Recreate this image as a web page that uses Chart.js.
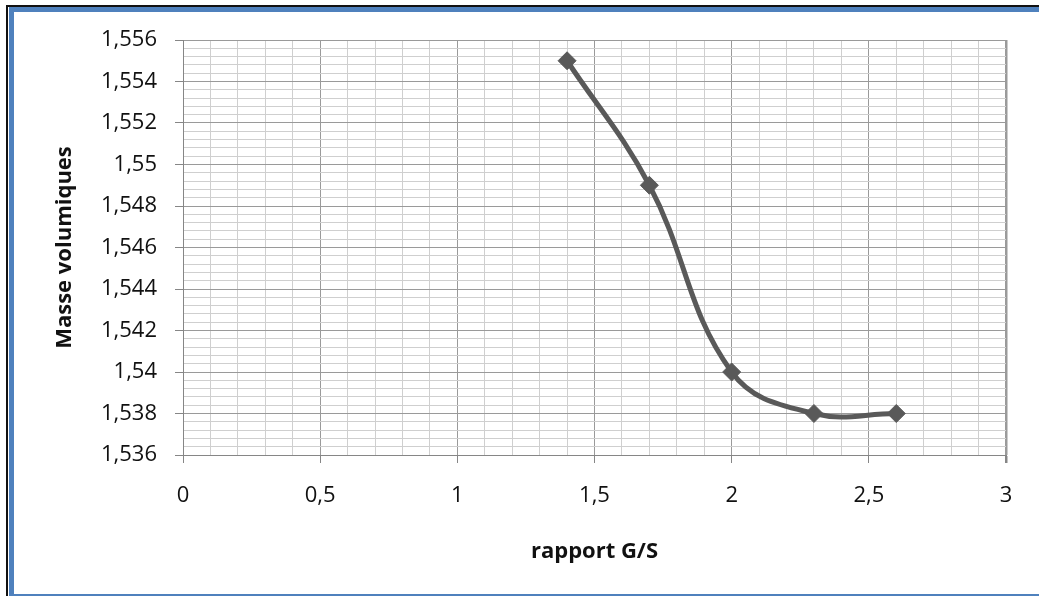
<!DOCTYPE html>
<html>
<head>
<meta charset="utf-8">
<title>Masse volumiques</title>
<script src="https://cdn.jsdelivr.net/npm/chart.js@4"></script>
<style>
  html, body { margin: 0; padding: 0; background: #fff; overflow: hidden; }
  #wrap { position: relative; width: 1039px; height: 596px; }
  #edge { position: absolute; left: 6px; top: 5px; right: -10px; bottom: -10px;
          border-left: 2px solid #111; border-top: 2px solid #111; }
  #frame { position: absolute; left: 9px; top: 7px; right: -10px; bottom: 0;
           border-left: 5px solid #4f81bd; border-top: 5px solid #4f81bd;
           border-bottom: 2px solid #4f81bd; }
  canvas { position: absolute; left: 0; top: 0; }
</style>
</head>
<body>
<div id="wrap">
  <div id="edge"></div>
  <div id="frame"></div>
  <canvas id="myChart" width="1039" height="596"></canvas>
</div>
<script>
// rapport G/S vs masse volumique
const ratioGS = [1.4, 1.7, 2.0, 2.3, 2.6]
const masseVol = [1.555, 1.549, 1.540, 1.538, 1.538]

const xMin = 0, xMax = 3, xStep = 0.1, xMajor = 0.5
const yMin = 1.536, yMax = 1.556, yStep = 0.0004, yMajor = 0.002

const FONT = "'Open Sans', Lato, 'Liberation Sans', sans-serif"

// Excel style number: comma decimal, no trailing zeros
const fmt = v => String(Math.round(v * 1000) / 1000).replace('.', ',')
const isMajor = (v, step) => Math.abs(Math.round(v / step) * step - v) < step * 1e-4

const points = ratioGS.map((x, i) => ({ x: x, y: masseVol[i] }))

const config = {
    type: 'scatter',
    data: {
        datasets: [{
            data: points,
            showLine: true,
            borderColor: '#595959',
            backgroundColor: '#595959',
            borderWidth: 5,
            tension: 0.4,
            pointStyle: 'rectRot',
            pointRadius: 9,
            pointBorderWidth: 1,
            pointHoverRadius: 9
        }]
    },
    options: {
        responsive: false,
        animation: false,
        events: [],
        layout: { padding: { left: 0, top: 40, right: 33, bottom: 0 } },
        plugins: {
            legend: { display: false },
            tooltip: { enabled: false }
        },
        scales: {
            x: {
                type: 'linear',
                min: xMin,
                max: xMax,
                afterFit: s => { s.height = 141 },
                ticks: {
                    stepSize: xStep,
                    autoSkip: false,
                    maxRotation: 0,
                    padding: 20,
                    color: '#111',
                    font: { family: FONT, size: 22 },
                    callback: v => isMajor(v, xMajor) ? fmt(v) : ''
                },
                grid: {
                    tickLength: 8,
                    color: c => isMajor(c.tick.value, xMajor) ? '#9a9a9a' : '#cfcfcf',
                    lineWidth: c => Math.abs(c.tick.value - xMax) < 1e-6 ? 2.5 : 1,
                    tickColor: c => isMajor(c.tick.value, xMajor) ? '#868686' : 'rgba(0,0,0,0)'
                },
                border: { color: '#868686', width: 1 },
                title: {
                    display: true,
                    text: 'rapport G/S',
                    color: '#111',
                    font: { family: FONT, size: 22, weight: 'bold' },
                    padding: { top: 0, bottom: 31 }
                }
            },
            y: {
                min: yMin,
                max: yMax,
                afterFit: s => { s.width = 183 },
                ticks: {
                    stepSize: yStep,
                    autoSkip: false,
                    padding: 18,
                    color: '#111',
                    font: { family: FONT, size: 22 },
                    callback: v => isMajor(v - yMin, yMajor) ? fmt(v) : ''
                },
                grid: {
                    tickLength: 8,
                    color: c => isMajor(c.tick.value - yMin, yMajor) ? '#9a9a9a' : '#cfcfcf',
                    tickColor: c => isMajor(c.tick.value - yMin, yMajor) ? '#868686' : 'rgba(0,0,0,0)'
                },
                border: { color: '#868686', width: 1 },
                title: {
                    display: true,
                    text: 'Masse volumiques',
                    color: '#111',
                    font: { family: FONT, size: 22, weight: 'bold' },
                    padding: { top: 52, bottom: 0 }
                }
            }
        }
    }
}

const ctx = document.getElementById('myChart').getContext('2d')
new Chart(ctx, config)
</script>
</body>
</html>
